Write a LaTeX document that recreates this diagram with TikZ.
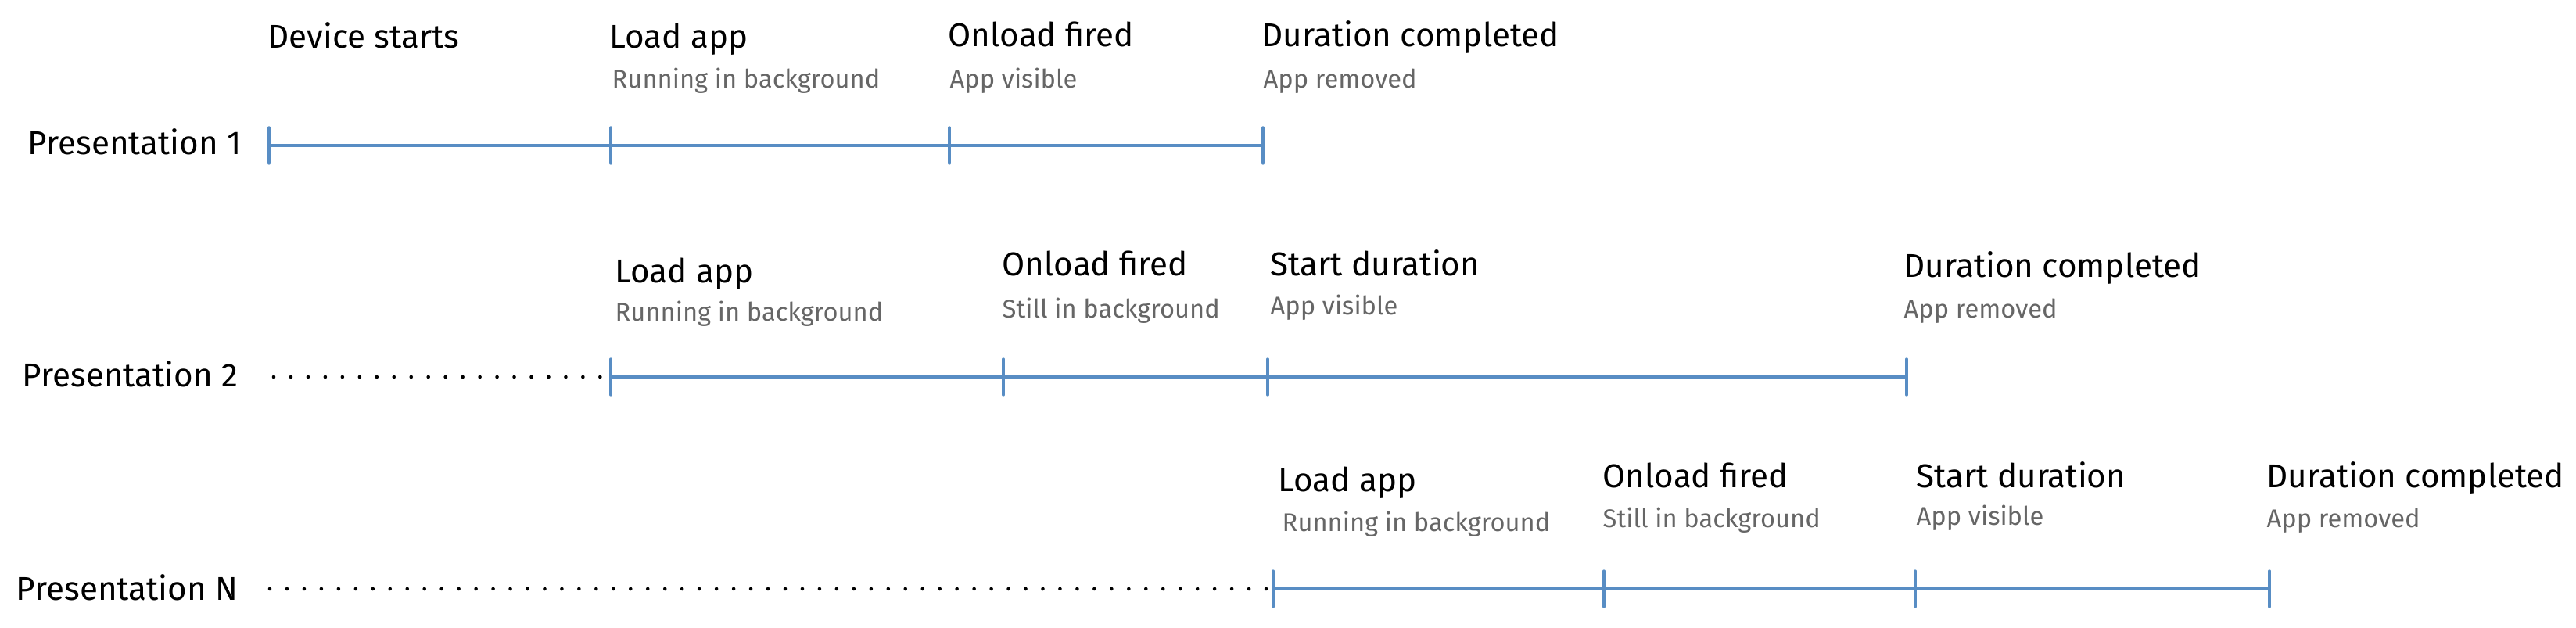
\documentclass[tikz,border=0pt]{standalone}
\usepackage{fontspec}
\setmainfont{Fira Sans}
\usepackage{xcolor}
\usepackage{tikz}
\usetikzlibrary{positioning}
\definecolor{azuleje}{RGB}{88,141,196}

\begin{document}
\begin{tikzpicture}[
  evento/.style={anchor=base west, inner sep=0pt, font=\fontsize{12}{14}\selectfont},
  nota/.style={anchor=base west, inner sep=0pt, text=black!60, font=\fontsize{9.3}{11}\selectfont},
  fila/.style={anchor=base west, inner sep=0pt, font=\fontsize{12}{14}\selectfont},
  eje/.style={draw=azuleje, line width=1.1pt},
  marca/.style={draw=azuleje, line width=0.95pt, line cap=round},
  puntos/.style={line width=1.3pt, line cap=round, dash pattern=on 0pt off 6.25pt}
]
  \useasboundingbox (0,0) rectangle (32.94,8.03);

  % presentation 1
  \coordinate (a1) at (3.44,6.17);
  \coordinate (a2) at (7.81,6.17);
  \coordinate (a3) at (12.14,6.17);
  \coordinate (a4) at (16.15,6.17);
  \node[fila] (p1) at (0.35,6.05) {Presentation 1};
  \node[evento] (ta1) at (3.42,7.41) {Device starts};
  \node[evento] (ta2) at (7.79,7.41) {Load app};
  \node[evento] (ta3) at (12.12,7.43) {Onload fired};
  \node[evento] (ta4) at (16.13,7.43) {Duration completed};
  \node[nota] (sa2) at (7.82,6.90) {Running in background};
  \node[nota] (sa3) at (12.14,6.90) {App visible};
  \node[nota] (sa4) at (16.15,6.90) {App removed};
  \draw[eje] (a1)--(a2) (a2)--(a3) (a3)--(a4);
  \draw[marca] ([yshift=-2.3mm]a1)--([yshift=2.3mm]a1) ([yshift=-2.3mm]a2)--([yshift=2.3mm]a2)
    ([yshift=-2.3mm]a3)--([yshift=2.3mm]a3) ([yshift=-2.3mm]a4)--([yshift=2.3mm]a4);

  % presentation 2
  \coordinate (d2) at (3.50,3.21);
  \coordinate (b1) at (7.81,3.21);
  \coordinate (b2) at (12.83,3.21);
  \coordinate (b3) at (16.21,3.21);
  \coordinate (b4) at (24.38,3.21);
  \node[fila] (p2) at (0.28,3.08) {Presentation 2};
  \node[evento] (tb1) at (7.86,4.41) {Load app};
  \node[evento] (tb2) at (12.81,4.50) {Onload fired};
  \node[evento] (tb3) at (16.24,4.50) {Start duration};
  \node[evento] (tb4) at (24.34,4.48) {Duration completed};
  \node[nota] (sb1) at (7.86,3.92) {Running in background};
  \node[nota] (sb2) at (12.81,3.96) {Still in background};
  \node[nota] (sb3) at (16.24,4.00) {App visible};
  \node[nota] (sb4) at (24.34,3.96) {App removed};
  \draw[puntos] (d2)--(b1);
  \draw[eje] (b1)--(b2) (b2)--(b3) (b3)--(b4);
  \draw[marca] ([yshift=-2.3mm]b1)--([yshift=2.3mm]b1) ([yshift=-2.3mm]b2)--([yshift=2.3mm]b2)
    ([yshift=-2.3mm]b3)--([yshift=2.3mm]b3) ([yshift=-2.3mm]b4)--([yshift=2.3mm]b4);

  % presentation N
  \coordinate (dn) at (3.45,0.50);
  \coordinate (c1) at (16.28,0.50);
  \coordinate (c2) at (20.51,0.50);
  \coordinate (c3) at (24.49,0.50);
  \coordinate (c4) at (29.02,0.50);
  \node[fila] (pn) at (0.20,0.35) {Presentation N};
  \node[evento] (tc1) at (16.34,1.74) {Load app};
  \node[evento] (tc2) at (20.49,1.79) {Onload fired};
  \node[evento] (tc3) at (24.50,1.79) {Start duration};
  \node[evento] (tc4) at (28.98,1.79) {Duration completed};
  \node[nota] (sc1) at (16.39,1.23) {Running in background};
  \node[nota] (sc2) at (20.49,1.28) {Still in background};
  \node[nota] (sc3) at (24.50,1.31) {App visible};
  \node[nota] (sc4) at (28.98,1.28) {App removed};
  \draw[puntos] (dn)--(c1);
  \draw[eje] (c1)--(c2) (c2)--(c3) (c3)--(c4);
  \draw[marca] ([yshift=-2.3mm]c1)--([yshift=2.3mm]c1) ([yshift=-2.3mm]c2)--([yshift=2.3mm]c2)
    ([yshift=-2.3mm]c3)--([yshift=2.3mm]c3) ([yshift=-2.3mm]c4)--([yshift=2.3mm]c4);
\end{tikzpicture}
\end{document}
